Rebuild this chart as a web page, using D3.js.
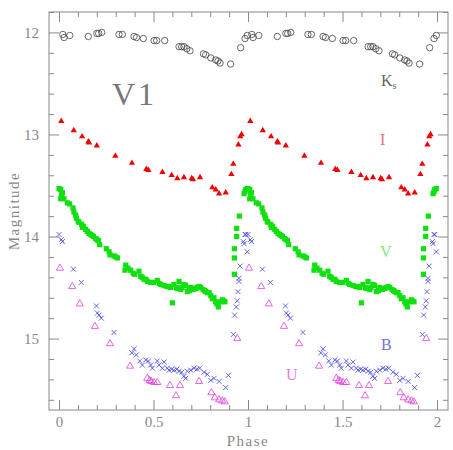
<!DOCTYPE html>
<html>
<head>
<meta charset="utf-8">
<script src="https://cdn.jsdelivr.net/npm/d3@7"></script>
<style>
  body { margin: 0; background: #fff; }
  text { font-family: "Liberation Serif", "DejaVu Serif", serif; }
</style>
</head>
<body>
<svg id="chart" width="453" height="450"></svg>
<script>
// light curve of V1, one cycle of [phase, magnitude]; drawn twice (phase and phase + 1)

var kData = [[0.02,12.02],[0.027,12.05],[0.057,12.03],[0.155,12.04],[0.2,12.01],[0.21,12.01],
  [0.226,12.0],[0.317,12.02],[0.335,12.02],[0.397,12.04],[0.41,12.05],[0.446,12.06],[0.503,12.08],
  [0.517,12.08],[0.559,12.08],[0.635,12.14],[0.649,12.14],[0.661,12.14],[0.676,12.16],[0.693,12.18],
  [0.764,12.21],[0.776,12.22],[0.803,12.25],[0.829,12.27],[0.841,12.28],[0.852,12.3],[0.908,12.31],
  [0.961,12.15],[0.984,12.06],[0.996,12.03]];

var iData = [[0.012,12.87],[0.078,12.96],[0.122,13.02],[0.155,13.07],[0.159,13.08],[0.2,13.11],
  [0.298,13.21],[0.386,13.28],[0.462,13.34],[0.473,13.35],[0.547,13.37],[0.596,13.4],[0.626,13.43],
  [0.661,13.42],[0.702,13.43],[0.709,13.44],[0.746,13.42],[0.811,13.52],[0.829,13.54],[0.847,13.58],
  [0.882,13.57],[0.912,13.39],[0.922,13.29],[0.949,13.1],[0.959,13.02],[0.966,13.0]];

var vData = [[0.0,13.53],[0.009,13.54],[0.018,13.57],[0.014,13.59],[0.009,13.63],[0.026,13.63],
  [0.044,13.67],[0.056,13.68],[0.074,13.72],[0.079,13.76],[0.088,13.79],[0.092,13.82],[0.101,13.85],
  [0.105,13.86],[0.12,13.88],[0.123,13.91],[0.13,13.9],[0.141,13.93],[0.15,13.95],[0.159,13.97],
  [0.168,13.98],[0.175,13.99],[0.182,14.0],[0.194,14.02],[0.2,14.03],[0.208,14.04],[0.215,14.08],
  [0.25,14.12],[0.265,14.15],[0.27,14.18],[0.291,14.19],[0.3,14.2],[0.309,14.21],[0.353,14.28],
  [0.349,14.33],[0.365,14.31],[0.379,14.33],[0.392,14.36],[0.4,14.37],[0.423,14.34],[0.432,14.39],
  [0.44,14.4],[0.45,14.42],[0.46,14.42],[0.467,14.44],[0.485,14.45],[0.5,14.45],[0.52,14.43],
  [0.53,14.46],[0.538,14.47],[0.556,14.48],[0.57,14.49],[0.582,14.49],[0.59,14.5],[0.6,14.65],
  [0.608,14.47],[0.62,14.5],[0.626,14.51],[0.635,14.44],[0.644,14.52],[0.65,14.5],[0.661,14.47],
  [0.67,14.48],[0.679,14.54],[0.69,14.53],[0.697,14.5],[0.71,14.52],[0.723,14.51],[0.73,14.5],
  [0.741,14.49],[0.75,14.5],[0.762,14.52],[0.77,14.53],[0.776,14.54],[0.785,14.55],[0.794,14.55],
  [0.803,14.58],[0.811,14.61],[0.82,14.6],[0.829,14.64],[0.835,14.66],[0.843,14.69],[0.855,14.64],
  [0.864,14.62],[0.87,14.63],[0.878,14.64],[0.928,14.37],[0.928,14.21],[0.928,14.12],[0.94,14.0],
  [0.94,13.92],[0.954,13.8],[0.979,13.58],[0.984,13.56],[0.988,13.54],[0.996,13.53]];

var bData = [[0.0,13.98],[0.012,14.03],[0.018,14.05],[0.076,14.32],[0.118,14.45],[0.198,14.68],
  [0.203,14.75],[0.212,14.77],[0.224,14.8],[0.291,14.94],[0.385,15.14],[0.397,15.1],[0.409,15.16],
  [0.427,15.22],[0.441,15.26],[0.459,15.21],[0.473,15.22],[0.485,15.26],[0.494,15.29],[0.52,15.22],
  [0.529,15.26],[0.556,15.23],[0.547,15.29],[0.573,15.29],[0.582,15.31],[0.596,15.3],[0.608,15.31],
  [0.623,15.3],[0.635,15.32],[0.649,15.33],[0.661,15.37],[0.67,15.39],[0.679,15.32],[0.697,15.31],
  [0.714,15.29],[0.729,15.3],[0.744,15.29],[0.767,15.33],[0.785,15.35],[0.803,15.41],[0.82,15.39],
  [0.847,15.42],[0.882,15.48],[0.896,15.36],[0.922,14.96],[0.929,14.77],[0.938,14.69],[0.943,14.63],
  [0.947,14.54],[0.952,14.44],[0.952,14.41],[0.958,14.29],[0.975,14.05],[0.979,14.07],[0.984,13.98],
  [0.988,13.98],[0.996,14.15]];

var uData = [[0.005,14.31],[0.07,14.49],[0.11,14.66],[0.19,14.88],[0.27,15.05],[0.376,15.27],
  [0.467,15.39],[0.48,15.41],[0.488,15.42],[0.503,15.43],[0.52,15.43],[0.587,15.46],[0.619,15.56],
  [0.64,15.46],[0.741,15.42],[0.806,15.53],[0.824,15.58],[0.847,15.6],[0.864,15.61],[0.877,15.62],
  [0.943,15.0]];

var xMajor = [0, 0.5, 1, 1.5, 2];
var yMajor = [12, 13, 14, 15];

var svg = d3.select("#chart");
var x = d3.scaleLinear().domain([-0.053, 2.058]).range([49, 448]);
var y = d3.scaleLinear().domain([11.8, 15.7]).range([12, 410]);

function twoCycles(data) {
  var out = [];
  data.forEach(function(d) { out.push([d[0], d[1]]); out.push([d[0] + 1, d[1]]); });
  return out;
}

var xMinor = d3.range(0, 2.001, 0.1).filter(function(v) { return Math.abs(v * 2 - Math.round(v * 2)) > 1e-6; });
var yMinor = d3.range(11.8, 15.71, 0.2).filter(function(v) { return Math.abs(v - Math.round(v)) > 1e-6; });

function styleAxis(g) {
  g.select(".domain").remove();
  g.selectAll("line").attr("stroke", "#888").attr("stroke-width", 1);
  g.selectAll("text").attr("fill", "#888").style("font-size", "15px").style("font-family", "Liberation Serif, serif");
}

// major + minor ticks on all four sides, pointing in
svg.append("g").attr("transform", "translate(0,410)")
  .call(d3.axisBottom(x).tickValues(xMajor).tickSize(-10).tickPadding(6).tickFormat(d3.format("")))
  .call(styleAxis);
svg.append("g").attr("transform", "translate(0,410)")
  .call(d3.axisBottom(x).tickValues(xMinor).tickSize(-5).tickFormat("")).call(styleAxis);
svg.append("g").attr("transform", "translate(0,12)")
  .call(d3.axisTop(x).tickValues(xMajor).tickSize(-10).tickFormat("")).call(styleAxis);
svg.append("g").attr("transform", "translate(0,12)")
  .call(d3.axisTop(x).tickValues(xMinor).tickSize(-5).tickFormat("")).call(styleAxis);
svg.append("g").attr("transform", "translate(49,0)")
  .call(d3.axisLeft(y).tickValues(yMajor).tickSize(-10).tickPadding(10).tickFormat(d3.format("d")))
  .call(styleAxis);
svg.append("g").attr("transform", "translate(49,0)")
  .call(d3.axisLeft(y).tickValues(yMinor).tickSize(-5).tickFormat("")).call(styleAxis);
svg.append("g").attr("transform", "translate(448,0)")
  .call(d3.axisRight(y).tickValues(yMajor).tickSize(-10).tickFormat("")).call(styleAxis);
svg.append("g").attr("transform", "translate(448,0)")
  .call(d3.axisRight(y).tickValues(yMinor).tickSize(-5).tickFormat("")).call(styleAxis);

svg.append("rect").attr("x", 49).attr("y", 12).attr("width", 399).attr("height", 398)
  .attr("fill", "none").attr("stroke", "#888").attr("stroke-width", 1);

var plot = svg.append("g");

// Ks: open circles
plot.selectAll(".k").data(twoCycles(kData)).enter().append("circle")
  .attr("cx", function(d) { return x(d[0]); })
  .attr("cy", function(d) { return y(d[1]); })
  .attr("r", 3.2)
  .attr("fill", "none").attr("stroke", "#444").attr("stroke-width", 0.8);

// I: filled triangles
var tri = d3.symbol().type(d3.symbolTriangle).size(17);
plot.selectAll(".i").data(twoCycles(iData)).enter().append("path")
  .attr("d", tri)
  .attr("transform", function(d) { return "translate(" + x(d[0]) + "," + y(d[1]) + ")"; })
  .attr("fill", "#f00000");

// V: filled squares
plot.selectAll(".v").data(twoCycles(vData)).enter().append("rect")
  .attr("x", function(d) { return x(d[0]) - 2.6; })
  .attr("y", function(d) { return y(d[1]) - 2.6; })
  .attr("width", 5.2).attr("height", 5.2)
  .attr("fill", "#10e010");

// B: crosses
plot.selectAll(".b").data(twoCycles(bData)).enter().append("path")
  .attr("d", "M-2.5,-2.5L2.5,2.5M-2.5,2.5L2.5,-2.5")
  .attr("transform", function(d) { return "translate(" + x(d[0]) + "," + y(d[1]) + ")"; })
  .attr("stroke", "#4040e0").attr("stroke-width", 0.8).attr("fill", "none");

// U: open triangles
var triU = d3.symbol().type(d3.symbolTriangle).size(22);
plot.selectAll(".u").data(twoCycles(uData)).enter().append("path")
  .attr("d", triU)
  .attr("transform", function(d) { return "translate(" + x(d[0]) + "," + y(d[1]) + ")"; })
  .attr("fill", "none").attr("stroke", "#e040e0").attr("stroke-width", 0.8);

// band labels
function label(txt, px, py, color) {
  return svg.append("text").attr("x", px).attr("y", py).attr("fill", color)
    .style("font-size", "16px").text(txt);
}
var ks = label("K", 381, 86, "#666");
ks.append("tspan").attr("dy", 3).style("font-size", "10px").text("s");
label("I", 380, 145, "#e8707a");
label("V", 380, 257, "#80e880");
label("B", 381, 350, "#7070dd");
label("U", 286, 380, "#e878e8");

svg.append("text").attr("x", 112).attr("y", 105).attr("fill", "#777")
  .style("font-size", "32px").style("letter-spacing", "3px").text("V1");

svg.append("text").attr("x", 248).attr("y", 446).attr("text-anchor", "middle")
  .attr("fill", "#888").style("font-size", "15px").style("letter-spacing", "1.5px").text("Phase");

svg.append("text").attr("transform", "translate(19,211) rotate(-90)").attr("text-anchor", "middle")
  .attr("fill", "#888").style("font-size", "15px").style("letter-spacing", "1.5px").text("Magnitude");
</script>
</body>
</html>
